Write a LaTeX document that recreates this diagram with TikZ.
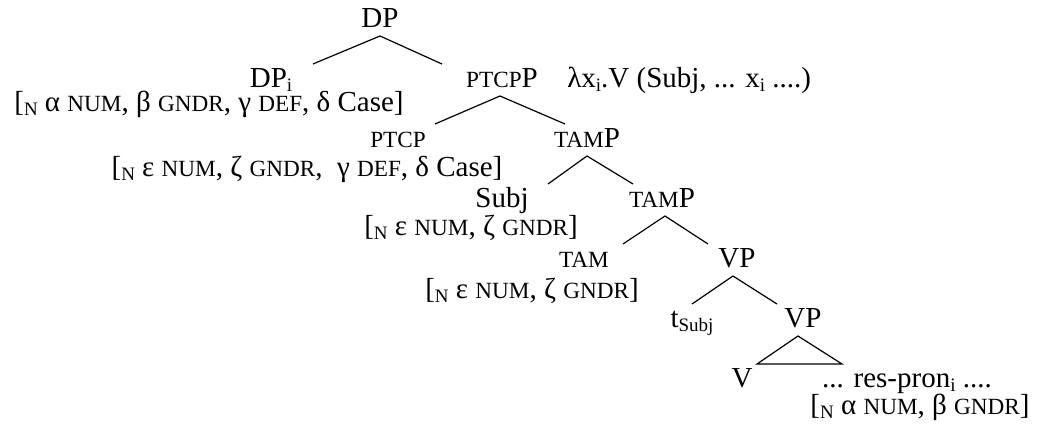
\documentclass[tikz,border=0pt]{standalone}
\usepackage{fontspec}
\setmainfont{Liberation Serif}

% small capitals for the feature names, and a shallow subscript
\newcommand\smc[1]{{\fontsize{11.6}{13}\selectfont #1}}
\newcommand\sub[1]{\raisebox{-1.8pt}{\fontsize{9.5}{10}\selectfont #1}}

\begin{document}
\begin{tikzpicture}[x=0.5pt, y=-0.5pt,
    cat/.style={inner sep=0pt, anchor=base, font=\fontsize{14.5}{17}\selectfont},
    feat/.style={cat},
    branch/.style={line width=0.6pt}
  ]
  \useasboundingbox (0,0) rectangle (1040,427);

  % categories
  \node[cat] (dp) at (380,28) {DP};
  \node[cat] (dpi) at (271,88) {DP\sub{i}};
  \node[cat] (ptcpp) at (502,88) {\smc{PTCP}P};
  \node[cat,anchor=base west] (lambda) at (567,88) {λx\sub{i}.V (Subj, ... x\sub{i} ....)};
  \node[cat] (ptcp) at (398,148) {\smc{PTCP}};
  \node[cat] (tamp) at (587,148) {\smc{TAM}P};
  \node[cat] (subj) at (502,208) {Subj};
  \node[cat] (tampb) at (662,208) {\smc{TAM}P};
  \node[cat] (tam) at (584,268) {\smc{TAM}};
  \node[cat] (vp) at (737,268) {VP};
  \node[cat] (tsubj) at (692,328) {t\sub{Subj}};
  \node[cat] (vpb) at (803,328) {VP};
  \node[cat] (v) at (742,388) {V};
  \node[cat] (respron) at (907,388) {... res-pron\sub{i} ....};

  % feature bundles
  \node[feat] (fdpi) at (209,112) {[\sub{N} α \smc{NUM}, β \smc{GNDR}, γ \smc{DEF}, δ Case]};
  \node[feat] (fptcp) at (307,177) {[\sub{N} ε \smc{NUM}, ζ \smc{GNDR},\ \ γ \smc{DEF}, δ Case]};
  \node[feat] (fsubj) at (471,236) {[\sub{N} ε \smc{NUM}, ζ \smc{GNDR}]};
  \node[feat] (ftam) at (532,299) {[\sub{N} ε \smc{NUM}, ζ \smc{GNDR}]};
  \node[feat] (fres) at (920,415) {[\sub{N} α \smc{NUM}, β \smc{GNDR}]};

  % branches
  \draw[branch] ([xshift=21pt,yshift=12pt]dpi.base) -- ([yshift=-4pt]dp.base) -- ([xshift=-30pt,yshift=12pt]ptcpp.base);
  \draw[branch] ([xshift=18.5pt,yshift=12pt]ptcp.base) -- ([xshift=-1pt,yshift=-4pt]ptcpp.base) -- ([xshift=-11pt,yshift=12pt]tamp.base);
  \draw[branch] ([xshift=23pt,yshift=12pt]subj.base) -- ([yshift=-4pt]tamp.base) -- ([xshift=-14.5pt,yshift=12pt]tampb.base);
  \draw[branch] ([xshift=19.5pt,yshift=12pt]tam.base) -- ([xshift=1.5pt,yshift=-4pt]tampb.base) -- ([xshift=-14.5pt,yshift=12pt]vp.base);
  \draw[branch] ([yshift=12pt]tsubj.base) -- ([xshift=-2pt,yshift=-4pt]vp.base) -- ([xshift=-13pt,yshift=12pt]vpb.base);
  \draw[branch] ([xshift=7.5pt,yshift=12pt]v.base) -- ([xshift=-2.5pt,yshift=-4pt]vpb.base) -- ([xshift=-32.5pt,yshift=12pt]respron.base) -- cycle;
\end{tikzpicture}
\end{document}
